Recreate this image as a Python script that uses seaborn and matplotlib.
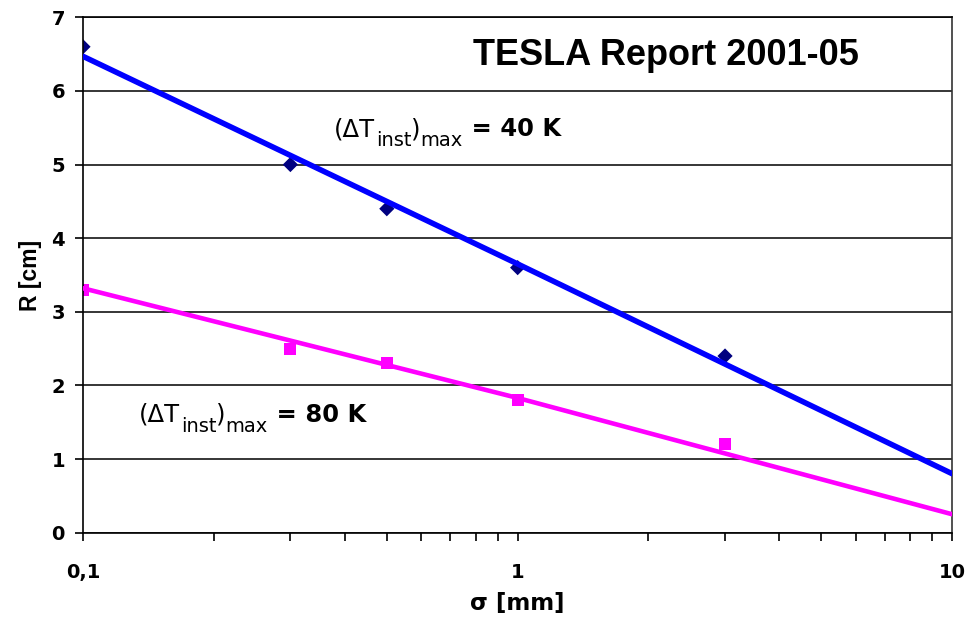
import matplotlib
matplotlib.use("Agg")
import matplotlib.pyplot as plt
from matplotlib.ticker import FixedLocator, FixedFormatter, NullFormatter
from matplotlib.transforms import IdentityTransform
import pandas as pd
import seaborn as sns

# ---- data ----
sigma_mm = [0.1, 0.3, 0.5, 1, 3]
R_40K = [6.6, 5.0, 4.4, 3.6, 2.4]
R_80K = [3.3, 2.5, 2.3, 1.8, 1.2]
trend_sigma = [0.1, 1, 10]
trend_40K = [6.47, 3.65, 0.80]
trend_80K = [3.32, 1.83, 0.25]
x_ticks = [0.1, 1, 10]
x_tick_labels = ["0,1", "1", "10"]
x_minor = [0.2, 0.3, 0.4, 0.5, 0.6, 0.7, 0.8, 0.9, 2, 3, 4, 5, 6, 7, 8, 9]
y_ticks = [0, 1, 2, 3, 4, 5, 6, 7]
title = "TESLA Report 2001-05"

pts = pd.DataFrame({"sigma": sigma_mm, "R40": R_40K, "R80": R_80K})
trend = pd.DataFrame({"sigma": trend_sigma, "T40": trend_40K, "T80": trend_80K})

sns.set_theme(style="ticks")
plt.rcParams['font.family'] = ['DejaVu Sans']

fig = plt.figure(figsize=(9.79, 6.17), dpi=100)
ax = fig.add_axes([83 / 979, (617 - 532.7) / 617, 869.3 / 979, 515.4 / 617])
ax.set_xscale('log')

# markers (below the trend lines)
sns.scatterplot(data=pts, x="sigma", y="R40", marker='D', s=60, color='#000080',
                edgecolor='none', linewidth=0, ax=ax, zorder=2, legend=False)
sns.scatterplot(data=pts, x="sigma", y="R80", marker='s', s=72, color='#FF00FF',
                edgecolor='none', linewidth=0, ax=ax, zorder=2, legend=False)
# trend lines
sns.lineplot(data=trend, x="sigma", y="T40", color='#0000FF', lw=4.0, ax=ax,
             zorder=3, sort=False, legend=False)
sns.lineplot(data=trend, x="sigma", y="T80", color='#FF00FF', lw=3.3, ax=ax,
             zorder=3, sort=False, legend=False)

ax.set_xlim(0.1, 10)
ax.set_ylim(0, 7)

ax.xaxis.set_major_locator(FixedLocator(x_ticks))
ax.xaxis.set_major_formatter(FixedFormatter(x_tick_labels))
ax.xaxis.set_minor_locator(FixedLocator(x_minor))
ax.xaxis.set_minor_formatter(NullFormatter())
ax.yaxis.set_major_locator(FixedLocator(y_ticks))
ax.set_yticklabels([str(v) for v in y_ticks])

ax.yaxis.grid(True, color='black', lw=1.1)
ax.xaxis.grid(False)
ax.set_axisbelow(True)

for s in ['left', 'bottom', 'top', 'right']:
    ax.spines[s].set_visible(True)
    ax.spines[s].set_color('black')
    ax.spines[s].set_linewidth(1.2)
ax.spines['right'].set_color('#333333')

ax.tick_params(axis='both', which='both', direction='out', length=6, width=1.2,
               color='black', labelcolor='black', bottom=True, left=True,
               top=False, right=False)
ax.tick_params(axis='y', pad=7, labelsize=14)
ax.tick_params(axis='x', pad=16, labelsize=14)
for lab in ax.get_xticklabels() + ax.get_yticklabels():
    lab.set_fontweight('bold')

ax.set_xlabel("σ [mm]", fontsize=16.5, fontweight='bold', color='black')
ax.xaxis.set_label_coords(0.5, -0.115)
ax.set_ylabel("R [cm]", fontsize=16.5, fontweight='bold', color='black',
              family='Liberation Sans')
ax.yaxis.set_label_coords(-0.047, 0.5)

ax.text(0.671, 0.9075, title, transform=ax.transAxes, ha='center', va='baseline',
        fontsize=26, fontweight='bold', family='Liberation Sans', color='black',
        zorder=5)


def rich_text(ax, x, y, pieces):
    f = ax.figure
    f.canvas.draw()
    r = f.canvas.get_renderer()
    px, py = ax.transData.transform((x, y))
    for text, dx, dy, size, weight in pieces:
        t = ax.text(px + dx, py + dy, text, transform=IdentityTransform(),
                    fontsize=size, fontweight=weight, ha='left', va='baseline',
                    color='black', zorder=5)
        px = px + dx + t.get_window_extent(r).width


def label_pieces(value):
    return [("(ΔT", 0, 0, 17.5, 'normal'),
            ("inst", 1, -10, 14, 'normal'),
            (")", 0, 0, 17.5, 'normal'),
            ("max", 0, -10, 14, 'normal'),
            (" = %s K" % value, 0, 0, 17.5, 'bold')]


rich_text(ax, 0.377, 5.383, label_pieces("40"))
rich_text(ax, 0.1342, 1.509, label_pieces("80"))

fig.savefig("out.png", dpi=100)
